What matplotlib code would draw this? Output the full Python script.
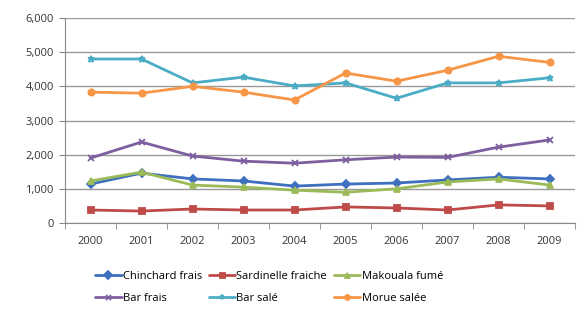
import numpy as np
import matplotlib.pyplot as plt

years = ['2000', '2001', '2002', '2003', '2004', '2005', '2006', '2007', '2008', '2009']
chinchard = [1140, 1460, 1290, 1230, 1080, 1140, 1170, 1260, 1340, 1290]
sardinelle = [380, 350, 410, 380, 380, 470, 440, 380, 530, 500]
makouala = [1230, 1490, 1110, 1050, 960, 900, 1000, 1200, 1290, 1110]
bar_frais = [1900, 2370, 1960, 1810, 1750, 1850, 1930, 1920, 2220, 2430]
bar_sale = [4800, 4800, 4100, 4270, 4010, 4100, 3650, 4100, 4100, 4250]
morue = [3830, 3800, 4000, 3830, 3600, 4390, 4150, 4470, 4880, 4700]

series = [
    ('Chinchard frais', chinchard, '#3F6FBF', 'D'),
    ('Sardinelle fraiche', sardinelle, '#BE4B48', 's'),
    ('Makouala fumé', makouala, '#9BBB59', '^'),
    ('Bar frais', bar_frais, '#7D5FA0', 'x'),
    ('Bar salé', bar_sale, '#4BACC6', '*'),
    ('Morue salée', morue, '#F79646', 'o'),
]

plt.rcParams['font.family'] = ['Open Sans', 'DejaVu Sans']
fig = plt.figure(figsize=(5.8, 3.24), dpi=100)
ax = fig.add_axes([65 / 580, 1 - 223 / 324, 510 / 580, 205 / 324])

x = np.arange(len(years))
lines = []
for name, vals, col, mk in series:
    ln, = ax.plot(x, vals, color=col, lw=2.0, marker=mk, ms=4.5, mew=1.3,
                  label=name, solid_capstyle='round')
    lines.append(ln)

ax.set_xlim(-0.5, len(years) - 0.5)
ax.set_ylim(0, 6000)
ax.set_yticks(range(0, 6001, 1000))
ax.set_yticklabels(['{:,}'.format(v) for v in range(0, 6001, 1000)])
ax.set_xticks(x)
ax.set_xticklabels(years)
ax.set_xticks(np.arange(-0.5, len(years), 1), minor=True)
ax.tick_params(axis='x', which='major', length=0, pad=9)
ax.tick_params(axis='x', which='minor', length=4, color='#888888')
ax.tick_params(axis='y', length=4, color='#888888', pad=4)
ax.tick_params(labelsize=8, labelcolor='#333333')
ax.grid(axis='y', color='#999999', lw=1)
ax.set_axisbelow(True)
for s in ['top', 'right']:
    ax.spines[s].set_visible(False)
for s in ['left', 'bottom']:
    ax.spines[s].set_color('#888888')

# legend fills row by row: reorder for matplotlib's column-wise layout
order = [0, 3, 1, 4, 2, 5]
fig.legend([lines[i] for i in order], [series[i][0] for i in order],
           loc='upper left', bbox_to_anchor=(85 / 580, 1 - 261 / 324), ncol=3,
           frameon=False, fontsize=8, handlelength=2.4, handletextpad=0.1,
           columnspacing=0.6, labelspacing=1.0, markerscale=0.8)

fig.savefig('out.png', dpi=100, facecolor='white')
